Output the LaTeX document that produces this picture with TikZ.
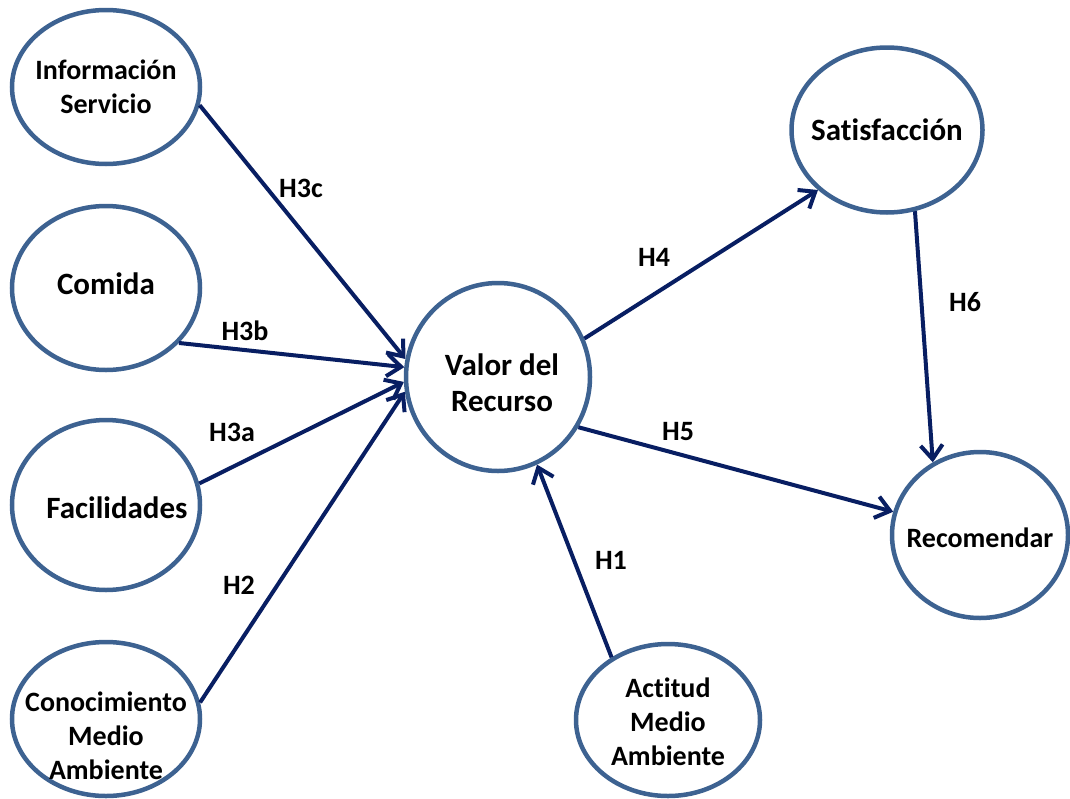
\documentclass[tikz,border=0pt]{standalone}
\usepackage{fontspec}
\setmainfont{Carlito}[Ligatures=NoCommon]
\usetikzlibrary{shapes.geometric, arrows.meta}
\definecolor{ringblue}{RGB}{61,98,145}
\definecolor{arrowblue}{RGB}{8,30,98}

\begin{document}
\begin{tikzpicture}[x=1pt, y=-1pt,
  every node/.style={font=\bfseries\fontsize{28}{34}\selectfont, align=center},
  construct/.style={ellipse, draw=ringblue, line width=4.5pt, inner sep=0pt},
  big/.style={font=\bfseries\fontsize{31}{36}\selectfont},
  hyp/.style={-{Straight Barb[length=14pt,width=22pt]}, draw=arrowblue, line width=4pt}]
\useasboundingbox (0,0) rectangle (1070,798);
% constructos
\node[construct, minimum width=188, minimum height=154, label={center:Información\\Servicio}] (info) at (106,87) {};
\node[construct, minimum width=188, minimum height=164, label={[big,yshift=4]center:Comida}] (comida) at (106,288) {};
\node[construct, minimum width=188, minimum height=170, label={[big,xshift=11,yshift=-3]center:Facilidades}] (fac) at (106,505) {};
\node[construct, minimum width=188, minimum height=154, label={[yshift=-17]center:Conocimiento\\Medio\\Ambiente}] (con) at (106,719) {};
\node[construct, minimum width=184, minimum height=188, label={[big,xshift=4,yshift=-6]center:Valor del\\Recurso}] (valor) at (498,377) {};
\node[construct, minimum width=184, minimum height=152, label={[yshift=-2]center:Actitud\\Medio\\Ambiente}] (act) at (668,720) {};
\node[construct, minimum width=191, minimum height=165, label={[big]center:Satisfacción}] (sat) at (887,130) {};
\node[construct, minimum width=176, minimum height=166, label={[yshift=-3]center:Recomendar}] (rec) at (980,535) {};
% hipotesis
\draw[hyp] (info.-11) -- (valor.169);
\draw[hyp] (comida.-37) -- (valor.174);
\draw[hyp] (fac.13) -- (valor.-177);
\draw[hyp] (con.10) -- (valor.-171);
\draw[hyp] (act.132) -- (valor.-66);
\draw[hyp] (valor.24) -- (sat.-139);
\draw[hyp] (valor.-32) -- (rec.165);
\draw[hyp] (sat.-71) -- (rec.123);
\node (h3c) at (301,188) {H3c};
\node (h3b) at (245,331) {H3b};
\node (h3a) at (232,432) {H3a};
\node (h2) at (239,585) {H2};
\node (h1) at (611,560) {H1};
\node (h4) at (654,257) {H4};
\node (h5) at (678,432) {H5};
\node (h6) at (965,302) {H6};
\end{tikzpicture}
\end{document}
